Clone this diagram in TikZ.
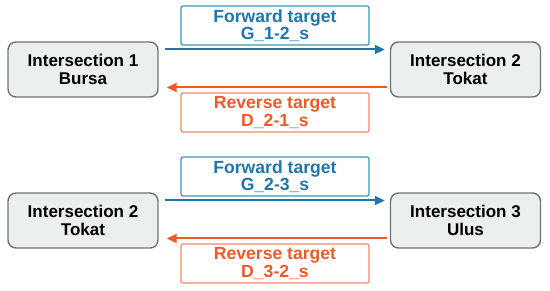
\documentclass[tikz,border=0pt]{standalone}
\usepackage{fontspec}
\setmainfont{Liberation Sans}
\usetikzlibrary{arrows.meta}
\definecolor{fwdblue}{RGB}{30,118,170}
\definecolor{fwdedge}{RGB}{50,155,185}
\definecolor{revorange}{RGB}{240,88,40}
\definecolor{revedge}{RGB}{245,135,105}
\definecolor{crossfill}{RGB}{236,239,240}
\definecolor{crossedge}{RGB}{110,115,115}
\begin{document}
\begin{tikzpicture}[x=1pt,y=-1pt,>={Triangle[length=10pt,width=9pt]},
  cross/.style={draw=crossedge,fill=crossfill,line width=1.4pt,rounded corners=8pt,
    minimum width=150pt,minimum height=55pt,align=center,inner sep=0pt,
    font=\fontsize{17}{18.5}\selectfont\bfseries},
  fwdlabel/.style={draw=fwdedge,line width=1.2pt,rounded corners=2pt,text=fwdblue,
    minimum width=188pt,minimum height=39pt,align=center,inner sep=0pt,
    font=\fontsize{17.6}{17.5}\selectfont\bfseries},
  revlabel/.style={fwdlabel,draw=revedge,text=revorange},
  fwd/.style={->,draw=fwdblue,line width=2pt},
  rev/.style={->,draw=revorange,line width=2pt}]
\useasboundingbox (0,0) rectangle (550,291);

\node[cross] (int1) at (83,69.5) {Intersection 1\\Bursa};
\node[cross] (int2) at (465.5,69.5) {Intersection 2\\Tokat};
\node[fwdlabel] (fw1) at (275,25.5) {Forward target\\G\_1-2\_s};
\node[revlabel] (rv1) at (275,112.5) {Reverse target\\D\_2-1\_s};

\draw[fwd] ([xshift=6pt,yshift=20pt]int1.east) -- ([xshift=-5pt,yshift=20pt]int2.west);
\draw[rev] ([xshift=-3pt,yshift=-18pt]int2.west) -- ([xshift=8pt,yshift=-18pt]int1.east);

\node[cross] (int2b) at (83,220.5) {Intersection 2\\Tokat};
\node[cross] (int3) at (465.5,220.5) {Intersection 3\\Ulus};
\node[fwdlabel] (fw2) at (275,176.5) {Forward target\\G\_2-3\_s};
\node[revlabel] (rv2) at (275,263.5) {Reverse target\\D\_3-2\_s};

\draw[fwd] ([xshift=6pt,yshift=20pt]int2b.east) -- ([xshift=-5pt,yshift=20pt]int3.west);
\draw[rev] ([xshift=-3pt,yshift=-18pt]int3.west) -- ([xshift=8pt,yshift=-18pt]int2b.east);
\end{tikzpicture}
\end{document}
